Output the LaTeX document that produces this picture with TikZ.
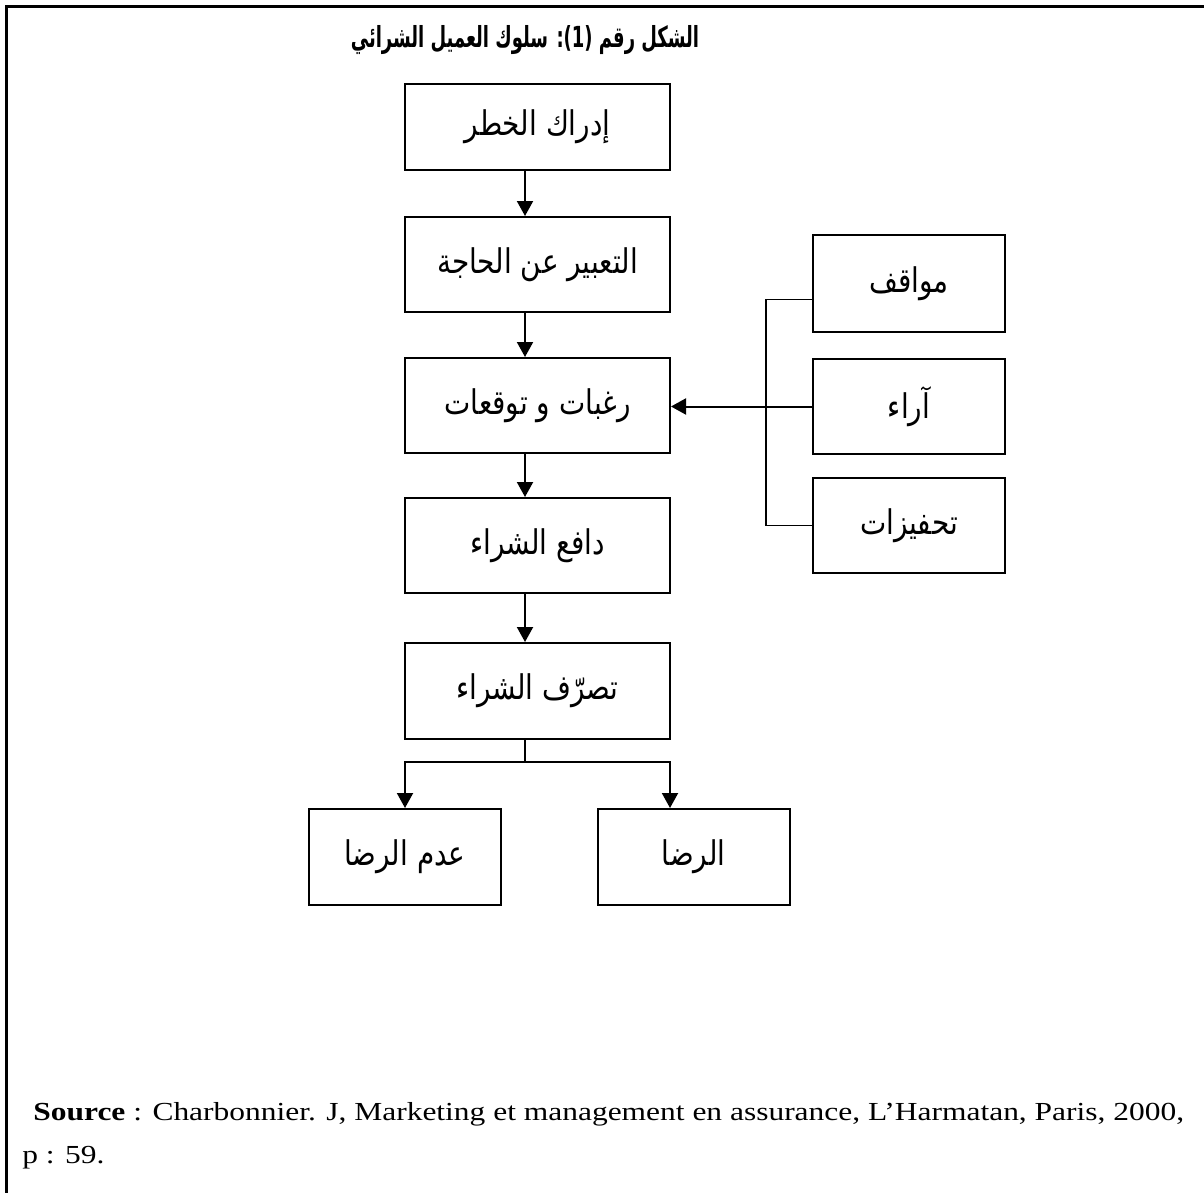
\documentclass[tikz,border=0pt]{standalone}
\usepackage{fontspec}
\setmainfont{Liberation Serif}
\newfontfamily\srcfont[FakeStretch=1.21]{Liberation Serif}
\newfontfamily\arabicfont[Script=Arabic,FakeStretch=0.82]{DejaVu Sans}
\newfontfamily\arabictitle[Script=Arabic,FakeStretch=0.62]{DejaVu Sans}
\TeXXeTstate=1
\usetikzlibrary{arrows.meta}

\tikzset{
  box/.style={draw, line width=1pt, inner sep=0pt, align=center,
    font=\arabicfont\fontsize{17}{20}\selectfont},
  mainbox/.style={box, minimum width=132.5pt, minimum height=47.5pt},
  sidebox/.style={box, minimum width=96pt, minimum height=47.5pt},
  arr/.style={line width=1pt, -{Triangle[width=8pt,length=7.5pt]}},
  link/.style={line width=1pt},
  brace/.style={line width=0.7pt},
}

\begin{document}
\begin{tikzpicture}[x=0.5pt,y=-0.5pt]
\fill[white] (0,0) rectangle (1204,1193);
\useasboundingbox (0,0) rectangle (1204,1193);

% frame (top and left edges only)
\draw[line width=1.5pt] (6,1193) -- (6,7) -- (1204,7);

% title
\node[font=\arabictitle\bfseries\fontsize{14.5}{17}\selectfont] (title) at (525,40)
  {\beginR الشكل رقم (1): سلوك العميل الشرائي\endR};

% main column
\node[mainbox, minimum height=43pt] (b1) at (537.5,127) {\beginR إدراك الخطر\endR};
\node[mainbox] (b2) at (537.5,264.5) {\beginR التعبير عن الحاجة\endR};
\node[mainbox] (b3) at (537.5,405.5) {\beginR رغبات و توقعات\endR};
\node[mainbox] (b4) at (537.5,545.5) {\beginR دافع الشراء\endR};
\node[mainbox, minimum height=48pt] (b5) at (537.5,691) {\beginR تصرّف الشراء\endR};

% side factors
\node[sidebox, minimum height=48.5pt] (r1) at (909,283.5) {\beginR مواقف\endR};
\node[sidebox] (r2) at (909,406.5) {\beginR آراء\endR};
\node[sidebox] (r3) at (909,525.5) {\beginR تحفيزات\endR};

% outcomes
\node[sidebox, minimum height=48pt] (nl) at (405,857) {\beginR عدم الرضا\endR};
\node[sidebox, minimum height=48pt] (nr) at (693.5,857) {\beginR الرضا\endR};

% guide coordinates for the connectors
\coordinate (ax) at (525,0);
\coordinate (bx) at (766,0);
\coordinate (rx) at (670,0);
\coordinate (jn) at (525,762);

% vertical flow
\draw[arr] (b1.south -| ax) -- (b2.north -| ax);
\draw[arr] (b2.south -| ax) -- (b3.north -| ax);
\draw[arr] (b3.south -| ax) -- (b4.north -| ax);
\draw[arr] (b4.south -| ax) -- (b5.north -| ax);

% split into the two outcomes
\draw[link] (b5.south -| ax) -- (jn);
\draw[arr] (jn) -| (nl.north);
\draw[arr] (jn) -| (nr.north -| rx);

% side factors feeding the wishes box
\draw[brace] ([yshift=-8pt]r1.west) -| (r3.west -| bx) -- (r3.west);
\draw[arr] (r2.west) -- (r2.west -| b3.east);

% source
\node[anchor=base west, inner sep=0pt, font=\srcfont\fontsize{13}{15}\selectfont] (src1) at (33,1120)
  {\textbf{Source} : Charbonnier. J, Marketing et management en assurance, L’Harmatan, Paris, 2000,};
\node[anchor=base west, inner sep=0pt, font=\srcfont\fontsize{13}{15}\selectfont] (src2) at (22,1163)
  {p : 59.};
\end{tikzpicture}
\end{document}
